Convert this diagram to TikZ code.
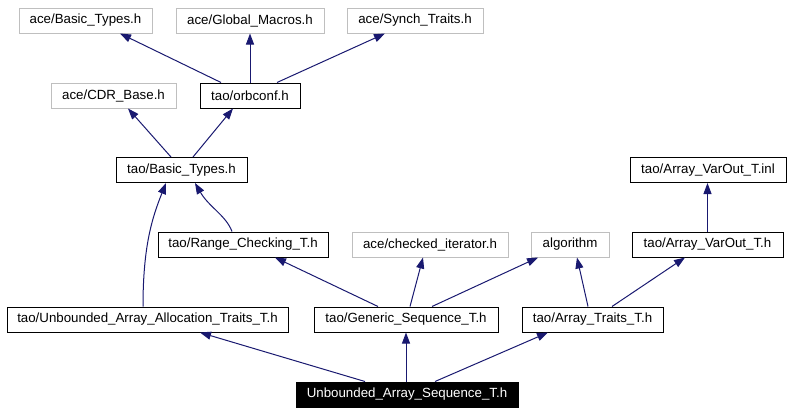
\documentclass[tikz,border=0pt]{standalone}
\usepackage{fontspec}
\setmainfont{Liberation Sans}
\usepackage{tikz}
\usetikzlibrary{arrows.meta}
\definecolor{edgeblue}{HTML}{191970}
\definecolor{extgray}{HTML}{BFBFBF}
\tikzstyle{file}=[rectangle,draw=black,line width=1pt,minimum height=25pt,inner sep=0pt,font=\fontsize{13.3}{16}\selectfont]
\tikzstyle{extfile}=[file,draw=extgray]
\tikzstyle{rootfile}=[file,fill=black,text=white]
\tikzstyle{edge}=[draw,line width=1pt,edgeblue,-{Triangle[length=11pt,width=8pt]}]

\begin{document}
\begin{tikzpicture}[x=1pt,y=-1pt]
    \useasboundingbox (0,0) rectangle (791,413);
    % Draw the include graph
    % First the system headers (grey boxes)
    \foreach \pos/\w/\name/\txt in {{(85.5,20.5)/133/aceBasic/{ace/Basic\_Types.h}}, {(250,20.5)/148/aceGlobal/{ace/Global\_Macros.h}}, {(415,20.5)/136/aceSynch/{ace/Synch\_Traits.h}}, {(113.5,95.5)/125/aceCDR/{ace/CDR\_Base.h}}, {(430,244.5)/156/chkIter/{ace/checked\_iterator.h}}, {(570,244.5)/78/algo/{algorithm}}}
        \node[extfile,minimum width=\w pt] (\name) at \pos {\txt};
    % Then the tao headers
    \foreach \pos/\w/\name/\txt in {{(250,95.5)/100/orbconf/{tao/orbconf.h}}, {(181.5,170)/131/taoBasic/{tao/Basic\_Types.h}}, {(708,170)/156/varOutInl/{tao/Array\_VarOut\_T.inl}}, {(243,244.5)/170/rangeChk/{tao/Range\_Checking\_T.h}}, {(707.5,244.5)/151/varOutH/{tao/Array\_VarOut\_T.h}}, {(147.5,319.5)/281/unbAlloc/{tao/Unbounded\_Array\_Allocation\_Traits\_T.h}}, {(406,319.5)/184/genSeq/{tao/Generic\_Sequence\_T.h}}, {(592.5,319.5)/141/arrTraits/{tao/Array\_Traits\_T.h}}}
        \node[file,minimum width=\w pt] (\name) at \pos {\txt};
    \node[rootfile,minimum width=222pt] (root) at (407,394.5) {Unbounded\_Array\_Sequence\_T.h};
    % Connect files with include edges
    \foreach \source/\sx/\dest/\dx in {orbconf/-29/aceBasic/34.5, orbconf/0/aceGlobal/0, orbconf/27/aceSynch/-30, taoBasic/-10.5/aceCDR/14.5, taoBasic/11.5/orbconf/-17, genSeq/-28/rangeChk/32, genSeq/4/chkIter/-7, genSeq/26/algo/-32, arrTraits/-4.5/algo/7, arrTraits/19.5/varOutH/-22.5, varOutH/0/varOutInl/-0.5, root/-42/unbAlloc/52.5, root/-1/genSeq/0, root/28/arrTraits/-44.5}
        \path[edge] ([xshift=\sx pt]\source.north) -- ([xshift=\dx pt]\dest.south);
    \path[edge] ([xshift=-4.5pt]unbAlloc.north) .. controls +(0,-60) and +(-14,35) .. ([xshift=-15.5pt]taoBasic.south);
    \path[edge] ([xshift=-11pt]rangeChk.north) .. controls +(-6,-16) and +(14,24) .. ([xshift=13.5pt]taoBasic.south);
\end{tikzpicture}
\end{document}
